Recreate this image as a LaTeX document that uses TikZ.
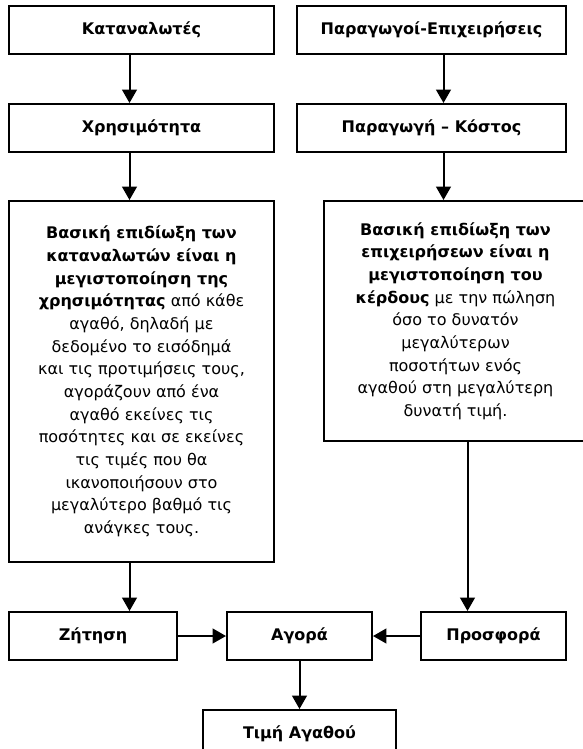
\documentclass[tikz,border=0pt]{standalone}
\usepackage{fontspec}
\setmainfont{DejaVu Sans}
\usepackage{tikz}
\usetikzlibrary{positioning, arrows.meta}
\tikzstyle{block} = [rectangle, minimum width=198.75pt,
                     minimum height=36pt, text centered,
                     draw=black, line width=1.5pt,
                     font=\fontsize{12}{17}\selectfont\bfseries]
\tikzstyle{textblock} = [rectangle, minimum width=198.75pt,
                         align=center, draw=black, line width=1.5pt,
                         font=\fontsize{12}{17}\selectfont]
\tikzstyle{arrow} = [line width=1.5pt, -{Triangle[length=10pt,width=11pt]}]

\begin{document}
\begin{tikzpicture}
\useasboundingbox (-106.125pt,22.5pt) rectangle ++(436.5pt,-561.75pt);
\node (kat) [block] {Καταναλωτές};
\node (xrh) [block, below=36pt of kat] {Χρησιμότητα};
\node (epL) [textblock, below=35.25pt of xrh, minimum height=270.75pt]
  {\textbf{Βασική επιδίωξη των}\\
   \textbf{καταναλωτών είναι η}\\
   \textbf{μεγιστοποίηση της}\\
   \textbf{χρησιμότητας} από κάθε\\
   αγαθό, δηλαδή με\\
   δεδομένο το εισόδημά\\
   και τις προτιμήσεις τους,\\
   αγοράζουν από ένα\\
   αγαθό εκείνες τις\\
   ποσότητες και σε εκείνες\\
   τις τιμές που θα\\
   ικανοποιήσουν στο\\
   μεγαλύτερο βαθμό τις\\
   ανάγκες τους.};
\node (par) [block, right=15.75pt of kat, minimum width=201.75pt] {Παραγωγοί-Επιχειρήσεις};
\node (kost) [block, below=36pt of par, minimum width=201.75pt] {Παραγωγή – Κόστος};
\node (epR) [textblock, below=35.25pt of kost, xshift=18pt,
             minimum width=197.25pt, minimum height=180pt]
  {\textbf{Βασική επιδίωξη των}\\
   \textbf{επιχειρήσεων είναι η}\\
   \textbf{μεγιστοποίηση του}\\
   \textbf{κέρδους} με την πώληση\\
   όσο το δυνατόν\\
   μεγαλύτερων\\
   ποσοτήτων ενός\\
   αγαθού στη μεγαλύτερη\\
   δυνατή τιμή.};
\node (zit) [block, below right=36pt and 0pt of epL.south west, minimum width=126pt] {Ζήτηση};
\node (agora) [block, right=36pt of zit, minimum width=108.75pt] {Αγορά};
\node (prosf) [block, right=35.25pt of agora, minimum width=108.75pt] {Προσφορά};
\node (timi) [block, below=36pt of agora, minimum width=144.75pt] {Τιμή Αγαθού};

\draw [arrow] ([xshift=-9pt]kat.south) -- ([xshift=-9pt]xrh.north);
\draw [arrow] ([xshift=-9pt]xrh.south) -- ([xshift=-9pt]epL.north);
\draw [arrow] ([xshift=9pt]par.south) -- ([xshift=9pt]kost.north);
\draw [arrow] ([xshift=9pt]kost.south) -- ([xshift=9pt]kost.south |- epR.north);
\draw [arrow] ([xshift=-9pt]epL.south) -- ([xshift=-9pt]epL.south |- zit.north);
\draw [arrow] ([xshift=9pt]epR.south) -- ([xshift=9pt]epR.south |- prosf.north);
\draw [arrow] (zit) -- (agora);
\draw [arrow] (prosf) -- (agora);
\draw [arrow] (agora) -- (timi);
\end{tikzpicture}
\end{document}
